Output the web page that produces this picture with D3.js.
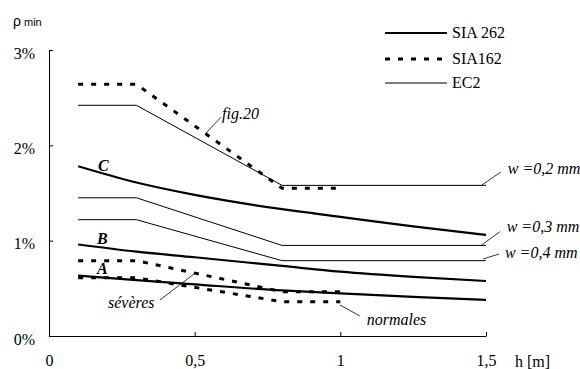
<!DOCTYPE html>
<html><head><meta charset="utf-8">
<script src="https://cdn.jsdelivr.net/npm/d3@7"></script>
<style>
body{margin:0;background:#fff}
svg{display:block}
</style></head>
<body>
<svg id="c" width="580" height="369"></svg>
<script>
// ---- data ----
const hEC2 = [0.1, 0.3, 0.8, 1.5];
const ec2_w02 = [2.42, 2.42, 1.58, 1.58];
const ec2_w03 = [1.45, 1.45, 0.95, 0.95];
const ec2_w04 = [1.22, 1.22, 0.79, 0.79];

const hSIA162 = [0.1, 0.3, 0.8, 1.0];
const sia162_fig20 = [2.64, 2.64, 1.55, 1.55];
const sia162_severes = [0.79, 0.79, 0.465, 0.465];
const sia162_normales = [0.61, 0.61, 0.36, 0.36];

const hSIA262 = [0.1, 0.3, 0.5, 0.8, 1.0, 1.25, 1.5];
const sia262_C = [1.78, 1.61, 1.48, 1.33, 1.25, 1.15, 1.06];
const sia262_B = [0.96, 0.885, 0.826, 0.735, 0.675, 0.62, 0.577];
const sia262_A = [0.633, 0.587, 0.542, 0.478, 0.448, 0.41, 0.378];

const xTicks = [0, 0.5, 1, 1.5];
const yTicks = [0, 1, 2, 3];
const legendLabels = ["SIA 262", "SIA162", "EC2"];

// ---- layout ----
const SERIF = "'Liberation Serif', 'DejaVu Serif', serif";
const svg = d3.select("#c");
const x = d3.scaleLinear().domain([0, 1.5]).range([49, 486]);
const y = d3.scaleLinear().domain([0, 3]).range([336, 50]);
const fmt = d => String(d).replace(".", ",");

// axes
const gx = svg.append("g").attr("transform", "translate(0,336)")
  .call(d3.axisBottom(x).tickValues(xTicks).tickSize(-4).tickSizeOuter(0).tickPadding(19).tickFormat(fmt));
const gy = svg.append("g").attr("transform", "translate(49,0)")
  .call(d3.axisLeft(y).tickValues(yTicks).tickSize(-4).tickSizeOuter(0).tickPadding(14).tickFormat(d => d + "%"));
[gx, gy].forEach(g => {
  g.attr("font-family", SERIF).attr("font-size", 16);
  g.selectAll("path,line").attr("stroke", "#000").attr("stroke-width", 1);
  g.selectAll("text").attr("font-family", SERIF).attr("font-size", 16).attr("fill", "#000");
});
gy.selectAll("text").attr("dy", "0.5em");
gx.selectAll(".tick").filter(d => d === 0).select("line").remove();

svg.append("text").attr("font-family", SERIF).attr("font-size", 16)
  .attr("x", 515).attr("y", 367).text("h [m]");
const ylab = svg.append("text").attr("x", 13).attr("y", 26)
  .attr("font-family", "'Liberation Sans', Arial, sans-serif");
ylab.append("tspan").attr("font-size", 14).text("ρ");
ylab.append("tspan").attr("font-size", 11).attr("dx", 3).text("min");

// lines
const line = d3.line().x(d => x(d[0])).y(d => y(d[1]));
const curve = d3.line().x(d => x(d[0])).y(d => y(d[1])).curve(d3.curveMonotoneX);
const zip = (h, v) => h.map((hh, i) => [hh, v[i]]);

[ec2_w02, ec2_w03, ec2_w04].forEach(v => {
  svg.append("path").attr("d", line(zip(hEC2, v)))
    .attr("fill", "none").attr("stroke", "#000").attr("stroke-width", 1);
});
[sia162_fig20, sia162_severes, sia162_normales].forEach(v => {
  svg.append("path").attr("d", line(zip(hSIA162, v)))
    .attr("fill", "none").attr("stroke", "#000").attr("stroke-width", 3)
    .attr("stroke-dasharray", "5,8");
});
[sia262_C, sia262_B, sia262_A].forEach(v => {
  svg.append("path").attr("d", curve(zip(hSIA262, v)))
    .attr("fill", "none").attr("stroke", "#000").attr("stroke-width", 2.2);
});

// annotations (data units)
const leaders = [
  [[0.539, 2.129], [0.590, 2.294]],
  [[1.486, 1.584], [1.551, 1.720]],
  [[1.485, 0.955], [1.548, 1.094]],
  [[1.490, 0.808], [1.545, 0.860]],
  [[0.381, 0.378], [0.501, 0.658]],
  [[0.999, 0.325], [1.067, 0.210]]
];
leaders.forEach(l => svg.append("path").attr("d", line(l))
  .attr("stroke", "#000").attr("stroke-width", 0.8).attr("fill", "none"));

const notes = [
  ["fig.20", 0.594, 2.273],
  ["w =0,2 mm", 1.575, 1.699],
  ["w =0,3 mm", 1.571, 1.094],
  ["w =0,4 mm", 1.565, 0.818],
  ["sévères", 0.2025, 0.294],
  ["normales", 1.0905, 0.115]
];
notes.forEach(n => svg.append("text")
  .attr("x", x(n[1])).attr("y", y(n[2]))
  .attr("font-family", SERIF).attr("font-size", 16)
  .attr("font-style", "italic").text(n[0]));

const letters = [["C", 0.168, 1.731], ["B", 0.165, 0.965], ["A", 0.165, 0.647]];
letters.forEach(n => svg.append("text")
  .attr("x", x(n[1])).attr("y", y(n[2]))
  .attr("font-family", SERIF).attr("font-size", 16)
  .attr("font-style", "italic").attr("font-weight", "bold").text(n[0]));

// legend
const leg = svg.append("g");
const legStyles = [
  {w: 2.2, dash: null, x2: 447},
  {w: 3, dash: "5,8", x2: 442},
  {w: 1, dash: null, x2: 447}
];
const legY = [33, 59, 83];
legendLabels.forEach((t, i) => {
  leg.append("line").attr("x1", 385).attr("x2", legStyles[i].x2)
    .attr("y1", legY[i]).attr("y2", legY[i])
    .attr("stroke", "#000").attr("stroke-width", legStyles[i].w)
    .attr("stroke-dasharray", legStyles[i].dash);
  leg.append("text").attr("x", 452).attr("y", legY[i] + 5)
    .attr("font-family", SERIF).attr("font-size", 16).text(t);
});
</script>
</body></html>
